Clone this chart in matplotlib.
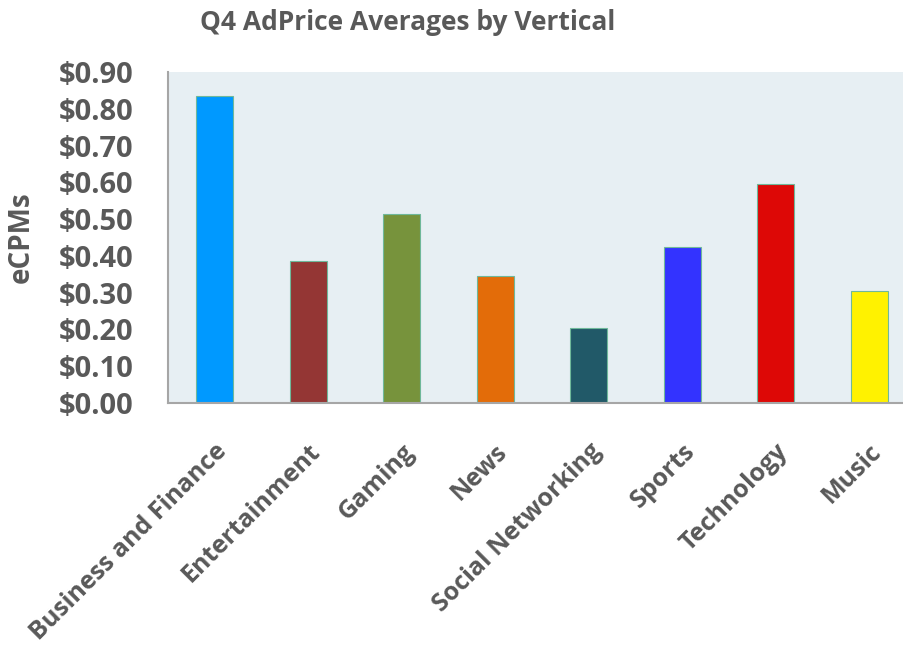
import matplotlib.pyplot as plt

categories = ["Business and Finance", "Entertainment", "Gaming", "News",
              "Social Networking", "Sports", "Technology", "Music"]
ecpm = [0.835, 0.385, 0.515, 0.345, 0.205, 0.425, 0.595, 0.305]
bar_colors = ["#0099FF", "#943634", "#77933C", "#E36C09",
              "#215968", "#3333FF", "#DD0806", "#FFF200"]
yticks = [0.0, 0.1, 0.2, 0.3, 0.4, 0.5, 0.6, 0.7, 0.8, 0.9]

grey = "#595959"
plt.rcParams["font.family"] = ["Open Sans", "DejaVu Sans"]

fig = plt.figure(figsize=(9.04, 6.48), dpi=100)
# axes runs off the right edge, like the original screenshot
ax = fig.add_axes([168 / 904, 1 - 403 / 648, 748 / 904, 331 / 648])
ax.set_facecolor("#E7EFF3")

x = range(len(categories))
ax.bar(x, ecpm, width=0.4, color=bar_colors, edgecolor="#6FB89A", linewidth=0.8)

ax.set_xlim(-0.5, 7.5)
ax.set_ylim(0, 0.9)
ax.set_yticks(yticks)
ax.set_yticklabels([f"${v:.2f}" for v in yticks], fontsize=21, fontweight="bold", color=grey)
ax.set_xticks(list(x))
ax.set_xticklabels(categories, rotation=45, ha="right", rotation_mode="anchor",
                   fontsize=18, fontweight="bold", color=grey)
ax.tick_params(axis="x", length=0, pad=26)
ax.tick_params(axis="y", length=0, pad=25)

for side in ["top", "right"]:
    ax.spines[side].set_visible(False)
for side in ["left", "bottom"]:
    ax.spines[side].set_color("#A6A6A6")
    ax.spines[side].set_linewidth(1.5)

ax.set_ylabel("eCPMs", fontsize=20, fontweight="bold", color=grey, labelpad=16)
fig.text(200 / 904, 1 - 22 / 648, "Q4 AdPrice Averages by Vertical", fontsize=19,
         fontweight="bold", color=grey, va="center", ha="left")

fig.savefig("out.png", dpi=100)
